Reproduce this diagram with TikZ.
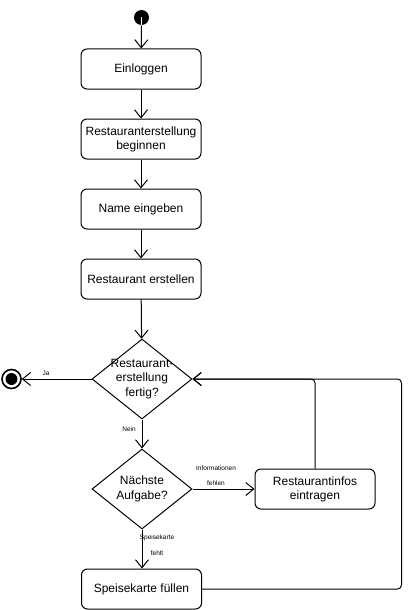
\documentclass[tikz,border=0pt]{standalone}
\usepackage{fontspec}
\setmainfont{Liberation Sans}
\usetikzlibrary{shapes.geometric,arrows.meta}
\begin{document}
\begin{tikzpicture}[x=1pt,y=-1pt,
  every node/.style={font=\fontsize{12}{14}\selectfont},
  act/.style={draw,line width=1pt,rounded corners=6pt,minimum width=120pt,minimum height=40pt,align=center,inner sep=0pt},
  dec/.style={draw,line width=1pt,diamond,minimum width=100pt,minimum height=80pt,inner sep=0pt},
  dectext/.style={align=center,font=\fontsize{12}{14.5}\selectfont},
  flow/.style={line width=1pt,-{Straight Barb[length=8pt,width=13pt,line width=1pt]}},
  small/.style={font=\fontsize{6.5}{8}\selectfont,inner sep=0pt}]
\useasboundingbox (0,0) rectangle (416,610);

% start and end markers
\node[circle,fill=black,minimum size=15pt,inner sep=0pt] (start) at (141.5,17.5) {};
\draw[white,line width=0.8pt] (start.center) -- ([yshift=-1pt]start.south);
\node[circle,draw,line width=1.6pt,minimum size=19pt,inner sep=0pt] (stop) at (11.5,379) {};
\fill (stop.center) circle (6pt);

% activities
\node[act] (login) at (141,69) {Einloggen};
\node[act] (begin) at (141,139) {Restauranterstellung\\beginnen};
\node[act] (name) at (141,209) {Name eingeben};
\node[act] (create) at (141,279) {Restaurant erstellen};
\node[act] (rinfo) at (315,489) {Restaurantinfos\\eintragen};
\node[act] (menu) at (141.5,589) {Speisekarte füllen};

% decisions
\node[dec,label={[dectext]center:Restaurant-\\erstellung\\fertig?}] (done) at (142,379) {};
\node[dec,label={[dectext]center:Nächste\\Aufgabe?}] (next) at (142,489) {};

\coordinate (loopr) at (401.5,589);

% flow
\draw[flow] (start.center) ++(0,8) -- (login);
\draw[flow] (login) -- (begin);
\draw[flow] (begin) -- (name);
\draw[flow] (name) -- (create);
\draw[flow] (create) -- (done);
\draw[flow] (done.west) -- (stop);
\draw[flow] (done.south) -- (next.north);
\draw[flow] (next.east) -- (rinfo.west);
\draw[flow] (next.south) -- (menu.north -| next.south);
\draw[flow,rounded corners=4pt] (rinfo.north) |- (done.east);
\draw[flow,rounded corners=4pt] (menu.east) -- (loopr) |- (done.east);

% guards
\node[small] (lja) at (46,373) {Ja};
\node[small] (lnein) at (129,429) {Nein};
\node[small] (linfo) at (216,468) {Informationen};
\node[small] (lfehlen) at (216,483) {fehlen};
\node[small] (lspeise) at (157,538) {Speisekarte};
\node[small] (lfehlt) at (157,553) {fehlt};
\end{tikzpicture}
\end{document}
